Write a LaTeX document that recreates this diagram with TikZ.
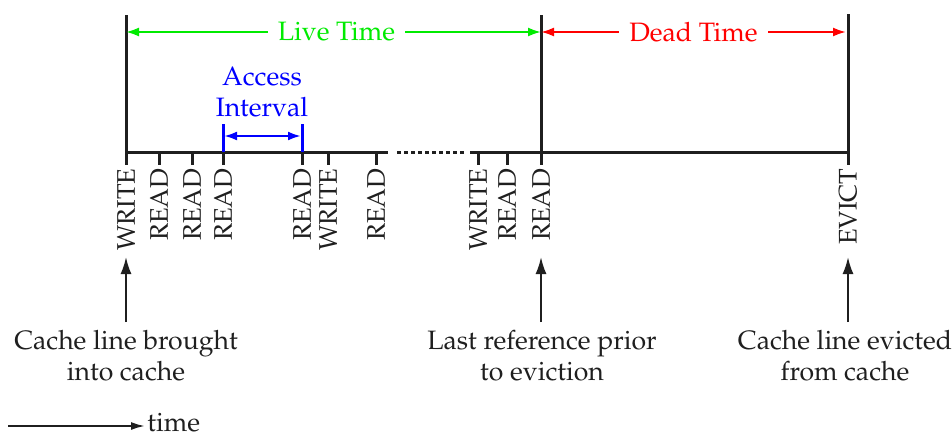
\documentclass[tikz,border=0pt]{standalone}
\usepackage[T1]{fontenc}
\usepackage{mathpazo}
\usepackage{xcolor}
\usepackage{tikz}
\usetikzlibrary{arrows.meta}
\usetikzlibrary{positioning}
\definecolor{livegreen}{RGB}{0,235,0}
\definecolor{deadred}{RGB}{255,0,0}
\definecolor{accblue}{RGB}{0,0,255}
\tikzset{
	thickline/.style={line width=1.5pt, black!88},
	evlabel/.style={rotate=90, anchor=east, inner sep=1pt, black!88, font=\fontsize{12.75}{15.5}\selectfont},
	spanarrow/.style={line width=1pt, {Latex[length=6.5pt,width=4.5pt]}-{Latex[length=6.5pt,width=4.5pt]}},
	uparrow/.style={line width=1pt, black!88, -{Latex[length=8.5pt,width=5.5pt]}},
	note/.style={anchor=north, align=center, inner sep=1pt, black!88},
}

\begin{document}
\begin{tikzpicture}[x=0.5pt, y=-0.5pt, font=\fontsize{13.3}{15.5}\selectfont]
		\useasboundingbox (0,0) rectangle (952,439);
		
		% time line with a gap
		\coordinate (lgap) at (388,152);
		\coordinate (dstart) at (397,152);
		\coordinate (dend) at (464,152);
		\coordinate (rgap) at (470,152);
		
		% events
		\foreach \x/\lab [count=\i] in {126/WRITE, 159/READ, 192/READ, 223/READ, 302/READ, 328/WRITE, 376/READ, 478/WRITE, 507/READ, 541/READ, 848/EVICT}{
			\coordinate (t\i) at (\x,152);
			\draw[thickline] (t\i) -- ++(0,13) node[evlabel] (ev\i) {\lab};
		}
		\draw[thickline] (t1) -- (lgap);
		\draw[thickline, dash pattern=on 2pt off 1.5pt] (dstart) -- (dend);
		\draw[thickline] (rgap) -- (t11);
		
		% boundaries
		\coordinate (top1) at (126,15);
		\coordinate (top2) at (541,15);
		\coordinate (top3) at (848,14);
		\draw[thickline] (top1) -- (t1);
		\draw[thickline] (top2) -- (t10);
		\draw[thickline] (top3) -- (t11);
		
		% live and dead time
		\coordinate (live0) at (126,32);
		\coordinate (live1) at (541,32);
		\coordinate (dead0) at (541,32);
		\coordinate (dead1) at (846,32);
		\draw[spanarrow, livegreen] (live0) -- node[pos=0.507, fill=white, inner sep=5pt] (live) {Live Time} (live1);
		\draw[spanarrow, deadred] (dead0) -- node[fill=white, inner sep=5pt] (dead) {Dead Time} (dead1);
		
		% access interval
		\coordinate (acc0) at (223,124);
		\coordinate (acc1) at (302,124);
		\coordinate (ai0) at (224,136);
		\coordinate (ai1) at (301,136);
		\draw[line width=1.5pt, accblue] (acc0) -- (t4);
		\draw[line width=1.5pt, accblue] (acc1) -- (t5);
		\draw[spanarrow, accblue, line width=1.2pt] (ai0) -- (ai1);
		\node[accblue, anchor=south, align=center, inner sep=1pt] (access) at (262,119) {Access\\Interval};
		
		% notes below
		\coordinate (in1) at (126,257);
		\coordinate (in2) at (541,257);
		\coordinate (in3) at (848,257);
		\node[note] (brought) at (126,328) {Cache line brought\\into cache};
		\node[note] (lastref) at (542,328) {Last reference prior\\to eviction};
		\node[note] (evicted) at (845,328) {Cache line evicted\\from cache};
		\draw[uparrow, shorten <=3pt] (brought.north -| in1) -- (in1);
		\draw[uparrow, shorten <=3pt] (lastref.north -| in2) -- (in2);
		\draw[uparrow, shorten <=3pt] (evicted.north -| in3) -- (in3);
		
		% time legend
		\coordinate (tstart) at (8,426);
		\node[anchor=west, inner sep=1pt, black!88] (time) at (145,423) {time};
		\draw[line width=1pt, black!88, -{Latex[length=7pt,width=4pt]}] (tstart) -- (tstart -| time.west);
		
	\end{tikzpicture}
\end{document}
